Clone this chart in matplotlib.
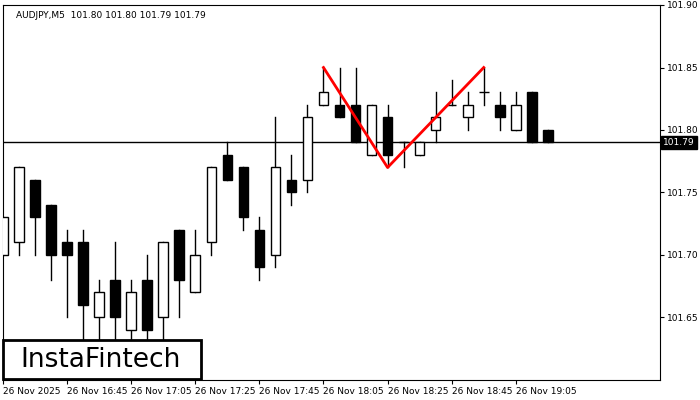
import matplotlib
matplotlib.use("Agg")
import matplotlib.pyplot as plt
from matplotlib.patches import Rectangle

# candle data, M5 bars starting 26 Nov 16:25
opens = [101.70, 101.71, 101.76, 101.74, 101.71, 101.71, 101.65, 101.68, 101.64, 101.68,
         101.65, 101.72, 101.67, 101.71, 101.78, 101.77, 101.72, 101.70, 101.76, 101.76,
         101.82, 101.82, 101.82, 101.78, 101.81, 101.79, 101.78, 101.80, 101.82, 101.81,
         101.83, 101.82, 101.80, 101.83, 101.80]
highs = [101.73, 101.77, 101.76, 101.74, 101.72, 101.72, 101.68, 101.71, 101.68, 101.70,
         101.71, 101.72, 101.72, 101.77, 101.79, 101.77, 101.73, 101.81, 101.78, 101.82,
         101.85, 101.85, 101.85, 101.82, 101.82, 101.79, 101.79, 101.83, 101.84, 101.83,
         101.85, 101.83, 101.83, 101.83, 101.80]
lows = [101.70, 101.70, 101.70, 101.68, 101.65, 101.63, 101.63, 101.63, 101.63, 101.63,
        101.63, 101.65, 101.67, 101.70, 101.76, 101.72, 101.68, 101.69, 101.74, 101.75,
        101.82, 101.81, 101.79, 101.78, 101.77, 101.77, 101.78, 101.79, 101.82, 101.80,
        101.82, 101.80, 101.80, 101.79, 101.79]
closes = [101.73, 101.77, 101.73, 101.70, 101.70, 101.66, 101.67, 101.65, 101.67, 101.64,
          101.71, 101.68, 101.70, 101.77, 101.76, 101.73, 101.69, 101.77, 101.75, 101.81,
          101.83, 101.81, 101.79, 101.82, 101.78, 101.79, 101.79, 101.81, 101.82, 101.82,
          101.83, 101.81, 101.82, 101.79, 101.79]

tick_idx = [0, 4, 8, 12, 16, 20, 24, 28, 32]
tick_labels = ["26 Nov 2025", "26 Nov 16:45", "26 Nov 17:05", "26 Nov 17:25", "26 Nov 17:45",
               "26 Nov 18:05", "26 Nov 18:25", "26 Nov 18:45", "26 Nov 19:05"]
y_ticks = [101.65, 101.70, 101.75, 101.80, 101.85, 101.90]

# double top pattern: peak, trough, peak
pattern_x = [20, 24, 30]
pattern_y = [101.85, 101.77, 101.85]
last_price = 101.79

fig = plt.figure(figsize=(7, 4), dpi=100)
ax = fig.add_axes([3 / 700, 20 / 400, 657 / 700, 375 / 400])
w = 0.6
for i, (o, h, l, c) in enumerate(zip(opens, highs, lows, closes)):
    ax.plot([i, i], [l, h], color="black", lw=1, zorder=2)
    lo, hi = min(o, c), max(o, c)
    ax.add_patch(Rectangle((i - w / 2, lo), w, max(hi - lo, 0.0003),
                           facecolor="white" if c >= o else "black",
                           edgecolor="black", lw=1, zorder=3))

ax.axhline(last_price, color="black", lw=1, zorder=1)
ax.plot(pattern_x, pattern_y, color="red", lw=2, zorder=4)

ax.set_xlim(0, 41)
ax.set_ylim(101.60, 101.90)
ax.yaxis.tick_right()
ax.set_yticks(y_ticks)
ax.set_yticklabels([f"{v:.2f}" for v in y_ticks], fontsize=6.5)
ax.set_xticks(tick_idx)
ax.set_xticklabels(tick_labels, fontsize=6.5, ha="left")
ax.tick_params(length=3, pad=2)
for s in ax.spines.values():
    s.set_linewidth(0.8)

ax.text(1.005, (last_price - 101.60) / 0.30, f"{last_price:.2f}", transform=ax.transAxes,
        fontsize=6.5, color="white", va="center", ha="left",
        bbox=dict(boxstyle="square,pad=0.2", fc="black", ec="black"))
ax.text(0.02, 0.985, "AUDJPY,M5  101.80 101.80 101.79 101.79", transform=ax.transAxes,
        fontsize=6.5, va="top", ha="left")

# logo box
fig.patches.append(Rectangle((3 / 700, 21 / 400), 198 / 700, 39 / 400, transform=fig.transFigure,
                             facecolor="white", edgecolor="black", lw=2, zorder=10))
fig.text(101 / 700, 40 / 400, "InstaFintech", fontsize=19, ha="center", va="center", zorder=11)

fig.savefig("out.png", dpi=100)
